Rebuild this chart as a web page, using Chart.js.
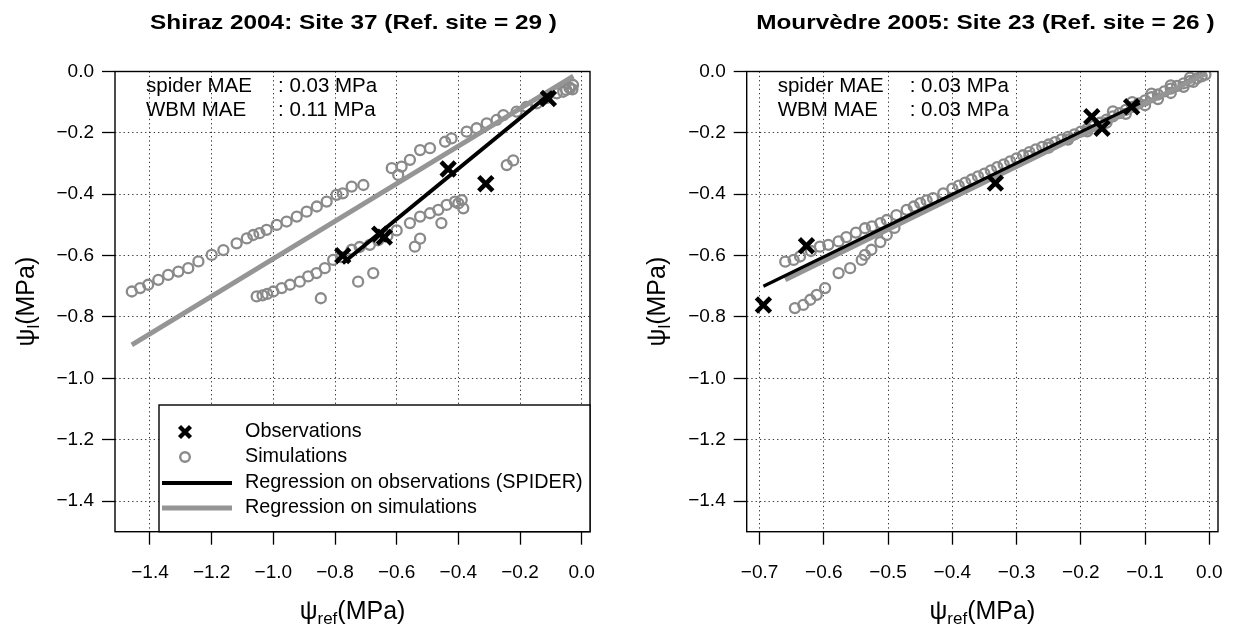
<!DOCTYPE html>
<html><head><meta charset="utf-8">
<script src="https://cdn.jsdelivr.net/npm/chart.js@4.4.1/dist/chart.umd.min.js"></script>
<style>
html,body{margin:0;padding:0;background:#fff;}
#wrap{position:relative;width:1235px;height:634px;overflow:hidden;background:#fff;}
#c1{position:absolute;left:0;top:0;}
#c2{position:absolute;left:630px;top:0;}
</style></head><body>
<div id="wrap"><canvas id="c1" width="617" height="634"></canvas><canvas id="c2" width="605" height="634"></canvas></div>
<script>
// ---------- tick labels ----------
const yTicks = [0.0, -0.2, -0.4, -0.6, -0.8, -1.0, -1.2, -1.4];
const leftXTicks = [-1.4, -1.2, -1.0, -0.8, -0.6, -0.4, -0.2, 0.0];
const rightXTicks = [-0.7, -0.6, -0.5, -0.4, -0.3, -0.2, -0.1, 0.0];

// ---------- Shiraz 2004 (left) ----------
const leftObsX = [-0.775, -0.655, -0.640, -0.433, -0.311, -0.108];
const leftObsY = [-0.600, -0.530, -0.540, -0.318, -0.366, -0.088];
const leftRegObsX = [-0.775, -0.095];
const leftRegObsY = [-0.625, -0.066];
const leftRegSimX = [-1.459, -0.027];
const leftRegSimY = [-0.891, -0.015];
const leftSimUpperX = [-1.459,-1.432,-1.406,-1.373,-1.341,-1.308,-1.276,-1.243,-1.200,-1.162,-1.119,-1.086,-1.065,-1.045,-1.022,-0.989,-0.957,-0.924,-0.892,-0.859,-0.827,-0.795,-0.775,-0.746,-0.708,-0.616,-0.595,-0.584,-0.557,-0.524,-0.492,-0.443,-0.422,-0.373,-0.341,-0.308,-0.276,-0.254,-0.211,-0.179,-0.146,-0.114,-0.081,-0.060,-0.050,-0.040,-0.038,-0.030,-0.028];
const leftSimUpperY = [-0.717,-0.706,-0.695,-0.679,-0.663,-0.652,-0.641,-0.619,-0.598,-0.582,-0.560,-0.544,-0.533,-0.527,-0.516,-0.500,-0.489,-0.473,-0.457,-0.440,-0.424,-0.402,-0.397,-0.375,-0.370,-0.315,-0.337,-0.310,-0.288,-0.256,-0.250,-0.229,-0.218,-0.196,-0.185,-0.169,-0.158,-0.142,-0.131,-0.115,-0.104,-0.087,-0.071,-0.066,-0.060,-0.052,-0.055,-0.058,-0.044];
const leftSimLowerX = [-1.054,-1.035,-1.020,-1.000,-0.973,-0.946,-0.914,-0.887,-0.860,-0.833,-0.806,-0.780,-0.746,-0.720,-0.687,-0.660,-0.630,-0.600,-0.557,-0.524,-0.492,-0.465,-0.438,-0.411,-0.400,-0.389];
const leftSimLowerY = [-0.733,-0.730,-0.725,-0.717,-0.706,-0.695,-0.685,-0.668,-0.657,-0.641,-0.614,-0.605,-0.581,-0.572,-0.565,-0.550,-0.535,-0.518,-0.494,-0.473,-0.462,-0.451,-0.435,-0.424,-0.430,-0.419];
const leftSimOutX = [-0.846,-0.725,-0.676,-0.541,-0.524,-0.455,-0.384,-0.243,-0.222];
const leftSimOutY = [-0.739,-0.685,-0.657,-0.571,-0.545,-0.494,-0.446,-0.305,-0.290];

// ---------- Mourvèdre 2005 (right) ----------
const rightObsX = [-0.694, -0.627, -0.333, -0.183, -0.167, -0.121];
const rightObsY = [-0.761, -0.568, -0.364, -0.147, -0.185, -0.115];
const rightRegObsX = [-0.694, -0.108];
const rightRegObsY = [-0.700, -0.103];
const rightRegSimX = [-0.660, -0.004];
const rightRegSimY = [-0.679, -0.006];
const rightSimUpperX = [-0.660,-0.647,-0.637,-0.620,-0.606,-0.593,-0.577,-0.565,-0.550,-0.536,-0.525,-0.512,-0.502,-0.487,-0.471,-0.460,-0.450,-0.440,-0.430,-0.414];
const rightSimUpperY = [-0.620,-0.614,-0.603,-0.585,-0.571,-0.565,-0.554,-0.540,-0.525,-0.511,-0.505,-0.494,-0.484,-0.468,-0.451,-0.440,-0.429,-0.420,-0.413,-0.397];
const rightSimLowerX = [-0.645,-0.632,-0.621,-0.611,-0.598,-0.577,-0.559,-0.541,-0.536,-0.526,-0.512,-0.502,-0.490];
const rightSimLowerY = [-0.771,-0.761,-0.744,-0.728,-0.706,-0.657,-0.641,-0.614,-0.598,-0.581,-0.556,-0.533,-0.510];
const rightSimBandX = [-0.400,-0.390,-0.380,-0.370,-0.360,-0.350,-0.340,-0.330,-0.320,-0.310,-0.300,-0.290,-0.280,-0.270,-0.260,-0.250,-0.240,-0.230,-0.220,-0.210,-0.200,-0.190,-0.180,-0.170,-0.160,-0.150,-0.140,-0.130,-0.120,-0.110,-0.100,-0.090,-0.080,-0.070,-0.060,-0.050,-0.040,-0.030,-0.020,-0.012,-0.006];
const rightSimBandY = [-0.382,-0.372,-0.362,-0.352,-0.342,-0.333,-0.322,-0.312,-0.303,-0.293,-0.283,-0.273,-0.263,-0.254,-0.246,-0.238,-0.230,-0.221,-0.213,-0.205,-0.196,-0.187,-0.177,-0.167,-0.157,-0.146,-0.136,-0.125,-0.115,-0.104,-0.094,-0.084,-0.075,-0.065,-0.056,-0.047,-0.039,-0.031,-0.023,-0.016,-0.010];
const rightSimBand2X = [-0.280,-0.250,-0.220,-0.190,-0.160,-0.130,-0.100,-0.080,-0.060,-0.040,-0.025];
const rightSimBand2Y = [-0.275,-0.248,-0.222,-0.195,-0.167,-0.138,-0.110,-0.090,-0.070,-0.050,-0.034];
const rightSimBand3X = [-0.150,-0.120,-0.090,-0.060,-0.030];
const rightSimBand3Y = [-0.130,-0.100,-0.072,-0.045,-0.020];

// ---------- rendering ----------
const FONT = '"Liberation Sans", Arial, Helvetica, sans-serif';
const GRAY_PT = '#8a8a8a';
const GRAY_LN = '#959595';
const fmt = v => (v < -1e-9 ? '\u2212' : '') + Math.abs(v).toFixed(1);
function pts(xs, ys) { return xs.map((x, i) => ({ x: x, y: ys[i] })); }

function drawPsi(ctx, cx, cy, sub, rot) {
  ctx.save();
  ctx.translate(cx, cy);
  if (rot) ctx.rotate(-Math.PI / 2);
  const big = '25px ' + FONT, small = '17px ' + FONT;
  ctx.font = big; const w1 = ctx.measureText('\u03C8').width; const w3 = ctx.measureText('(MPa)').width;
  ctx.font = small; const w2 = ctx.measureText(sub).width;
  let x = -(w1 + w2 + w3) / 2;
  ctx.fillStyle = '#000'; ctx.textAlign = 'left'; ctx.textBaseline = 'alphabetic';
  ctx.font = big; ctx.fillText('\u03C8', x, 8); x += w1;
  ctx.font = small; ctx.fillText(sub, x, 13); x += w2;
  ctx.font = big; ctx.fillText('(MPa)', x, 8);
  ctx.restore();
}

function drawX(ctx, x, y, s, lw) {
  ctx.save(); ctx.strokeStyle = '#000'; ctx.lineWidth = lw;
  ctx.beginPath(); ctx.moveTo(x - s, y - s); ctx.lineTo(x + s, y + s);
  ctx.moveTo(x - s, y + s); ctx.lineTo(x + s, y - s); ctx.stroke(); ctx.restore();
}

function build(id, o) {
  const overlay = {
    id: 'overlay',
    afterDatasetsDraw(chart) {
      const ctx = chart.ctx, a = chart.chartArea;
      ctx.save();
      ctx.strokeStyle = '#000'; ctx.lineWidth = 1.4;
      ctx.strokeRect(a.left, a.top, a.right - a.left, a.bottom - a.top);
      ctx.fillStyle = '#000';
      ctx.save();
      ctx.translate((a.left + a.right) / 2 + o.titleDx, 23);
      ctx.scale(1.16, 1);
      ctx.font = 'bold 21px ' + FONT; ctx.textAlign = 'center'; ctx.textBaseline = 'middle';
      ctx.fillText(o.title, 0, 0);
      ctx.restore();
      ctx.font = '20.5px ' + FONT; ctx.textAlign = 'left'; ctx.textBaseline = 'middle';
      ctx.fillText('spider MAE', a.left + 31, 86);
      ctx.fillText(': ' + o.maeSpider + ' MPa', a.left + 163, 86);
      ctx.fillText('WBM MAE', a.left + 31, 110);
      ctx.fillText(': ' + o.maeWbm + ' MPa', a.left + 163, 110);
      drawPsi(ctx, (a.left + a.right) / 2, 611, 'ref', false);
      drawPsi(ctx, o.yTitleX, (a.top + a.bottom) / 2, 'l', true);
      if (o.legend) {
        const lx = 159, ly = 405, lw = a.right - lx, lh = a.bottom - ly;
        ctx.fillStyle = '#fff'; ctx.fillRect(lx, ly, lw, lh);
        ctx.strokeStyle = '#000'; ctx.lineWidth = 1.4; ctx.strokeRect(lx, ly, lw, lh);
        const rows = [432, 457, 483, 508];
        drawX(ctx, 185, rows[0], 5.5, 4.3);
        ctx.beginPath(); ctx.arc(185, rows[1], 4.8, 0, 2 * Math.PI);
        ctx.strokeStyle = GRAY_PT; ctx.lineWidth = 2.4; ctx.stroke();
        ctx.beginPath(); ctx.moveTo(162, rows[2]); ctx.lineTo(232, rows[2]);
        ctx.strokeStyle = '#000'; ctx.lineWidth = 3.8; ctx.stroke();
        ctx.beginPath(); ctx.moveTo(162, rows[3]); ctx.lineTo(232, rows[3]);
        ctx.strokeStyle = GRAY_LN; ctx.lineWidth = 4.8; ctx.stroke();
        ctx.fillStyle = '#000'; ctx.font = '19.8px ' + FONT; ctx.textAlign = 'left'; ctx.textBaseline = 'middle';
        ctx.fillText('Observations', 245, rows[0]);
        ctx.fillText('Simulations', 245, rows[1]);
        ctx.fillText('Regression on observations (SPIDER)', 245, rows[2]);
        ctx.fillText('Regression on simulations', 245, rows[3]);
      }
      ctx.restore();
    }
  };
  const simStyle = { type: 'scatter', pointStyle: 'circle', pointRadius: 5, pointBorderWidth: 2.3, pointBorderColor: GRAY_PT, pointBackgroundColor: 'rgba(0,0,0,0)', showLine: false };
  const datasets = [
    { type: 'scatter', data: pts(o.obsX, o.obsY), pointStyle: 'crossRot', pointRadius: 10, pointBorderWidth: 4.6, pointBorderColor: '#000', pointBackgroundColor: '#000', showLine: false },
    { type: 'line', data: pts(o.regObsX, o.regObsY), borderColor: '#000', borderWidth: o.blackW, pointRadius: 0, fill: false },
    { type: 'line', data: pts(o.regSimX, o.regSimY), borderColor: GRAY_LN, borderWidth: 4.8, pointRadius: 0, fill: false }
  ];
  o.sims.forEach(s => datasets.push(Object.assign({ data: pts(s[0], s[1]) }, simStyle)));
  const gridCfg = { color: '#333', lineWidth: 1, tickColor: '#000', tickBorderDash: [], tickLength: 13, tickWidth: 1.3, drawOnChartArea: true };
  const borderCfg = { display: false, dash: [1.3, 3], dashOffset: 0 };
  new Chart(document.getElementById(id), {
    type: 'scatter',
    data: { datasets: datasets },
    options: {
      responsive: false, animation: false, devicePixelRatio: 1,
      layout: { padding: { top: 71.5, right: o.padR, left: 0, bottom: 0 } },
      plugins: { legend: { display: false }, tooltip: { enabled: false }, title: { display: false } },
      scales: {
        x: {
          type: 'linear', min: o.xMin, max: o.xMax,
          afterBuildTicks: s => { s.ticks = o.xTicks.map(v => ({ value: v })); },
          afterFit: s => { s.height = 102.3; s.paddingLeft = 0; s.paddingRight = 0; },
          ticks: { callback: fmt, color: '#000', font: { size: 19, family: FONT }, padding: 17, autoSkip: false, maxRotation: 0 },
          grid: gridCfg, border: borderCfg
        },
        y: {
          type: 'linear', min: -1.5, max: 0,
          afterBuildTicks: s => { s.ticks = yTicks.map(v => ({ value: v })); },
          afterFit: s => { s.width = o.yW; s.paddingTop = 0; s.paddingBottom = 0; },
          ticks: { callback: fmt, color: '#000', font: { size: 19, family: FONT }, padding: 8, autoSkip: false },
          grid: gridCfg, border: borderCfg
        }
      }
    },
    plugins: [overlay]
  });
}

build('c1', {
  title: 'Shiraz 2004: Site 37 (Ref. site = 29 )', maeSpider: '0.03', maeWbm: '0.11', titleDx: 1,
  xMin: -1.5135, xMax: 0.027, xTicks: leftXTicks, yW: 115, padR: 27, yTitleX: 26, legend: true, blackW: 4,
  obsX: leftObsX, obsY: leftObsY, regObsX: leftRegObsX, regObsY: leftRegObsY, regSimX: leftRegSimX, regSimY: leftRegSimY,
  sims: [[leftSimUpperX, leftSimUpperY], [leftSimLowerX, leftSimLowerY], [leftSimOutX, leftSimOutY]]
});
build('c2', {
  title: 'Mourv\u00e8dre 2005: Site 23 (Ref. site = 26 )', maeSpider: '0.03', maeWbm: '0.03', titleDx: 3,
  xMin: -0.72, xMax: 0.0135, xTicks: rightXTicks, yW: 116.7, padR: 17, yTitleX: 27, legend: false, blackW: 3.2,
  obsX: rightObsX, obsY: rightObsY, regObsX: rightRegObsX, regObsY: rightRegObsY, regSimX: rightRegSimX, regSimY: rightRegSimY,
  sims: [[rightSimUpperX, rightSimUpperY], [rightSimLowerX, rightSimLowerY], [rightSimBandX, rightSimBandY], [rightSimBand2X, rightSimBand2Y], [rightSimBand3X, rightSimBand3Y]]
});
</script>
</body></html>
